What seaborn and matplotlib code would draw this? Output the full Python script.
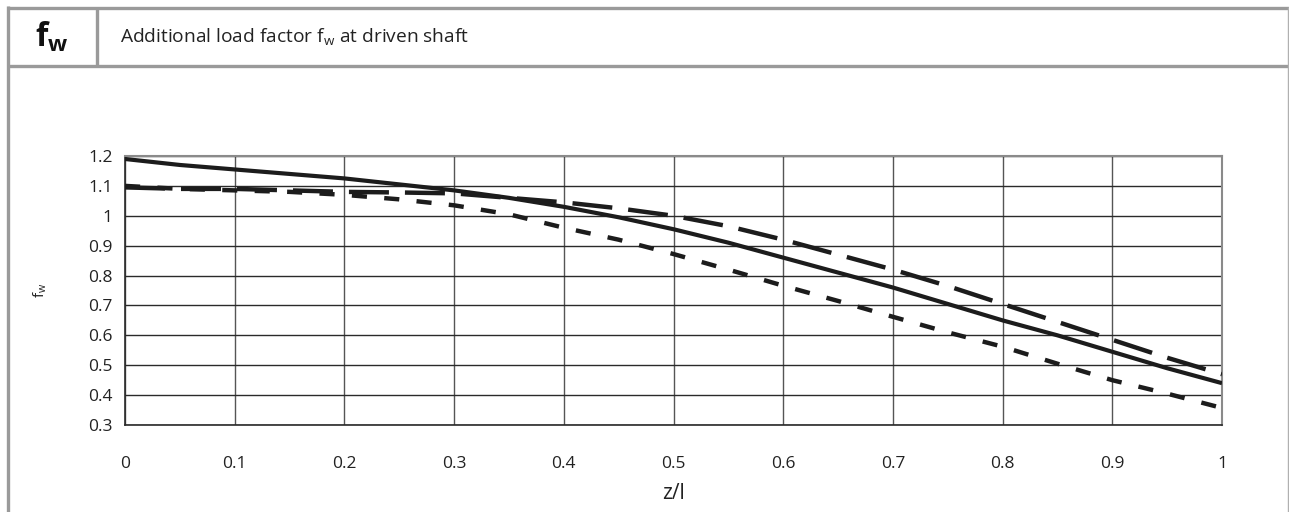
import numpy as np
import pandas as pd
import matplotlib
matplotlib.use("Agg")
import matplotlib.pyplot as plt
import seaborn as sns
from matplotlib.lines import Line2D

# ---- data ----
z_values = [0.0, 0.05, 0.1, 0.15, 0.2, 0.25, 0.3, 0.35, 0.4, 0.45, 0.5,
            0.55, 0.6, 0.65, 0.7, 0.75, 0.8, 0.85, 0.9, 0.95, 1.0]
solid_values = [1.19, 1.17, 1.155, 1.14, 1.125, 1.105, 1.085, 1.06, 1.03, 0.995, 0.955,
                0.91, 0.86, 0.81, 0.76, 0.705, 0.65, 0.60, 0.545, 0.49, 0.44]
long_dash_values = [1.095, 1.09, 1.09, 1.085, 1.08, 1.078, 1.075, 1.06, 1.045, 1.025, 1.0,
                    0.965, 0.92, 0.87, 0.82, 0.765, 0.705, 0.645, 0.585, 0.525, 0.47]
short_dash_values = [1.10, 1.09, 1.085, 1.08, 1.07, 1.055, 1.035, 1.005, 0.96, 0.92, 0.872,
                     0.82, 0.766, 0.715, 0.662, 0.61, 0.562, 0.505, 0.45, 0.405, 0.357]
x_ticks = [0, 0.1, 0.2, 0.3, 0.4, 0.5, 0.6, 0.7, 0.8, 0.9, 1]
x_tick_labels = ["0", "0.1", "0.2", "0.3", "0.4", "0.5", "0.6", "0.7", "0.8", "0.9", "1"]
y_ticks = [0.3, 0.4, 0.5, 0.6, 0.7, 0.8, 0.9, 1.0, 1.1, 1.2]
y_tick_labels = ["0.3", "0.4", "0.5", "0.6", "0.7", "0.8", "0.9", "1", "1.1", "1.2"]

sns.set_style("white")
plt.rcParams['font.family'] = ['Open Sans', 'DejaVu Sans']
plt.rcParams['mathtext.fontset'] = 'custom'
plt.rcParams['mathtext.rm'] = 'Open Sans'
plt.rcParams['mathtext.bf'] = 'Open Sans:bold'

W, H = 1289, 512
fig = plt.figure(figsize=(W / 100, H / 100), dpi=100)
ax = fig.add_axes([125 / W, 1 - 425 / H, (1222 - 125) / W, (425 - 156) / H])

df = pd.DataFrame({"z": z_values, "solid": solid_values,
                   "long": long_dash_values, "short": short_dash_values})

ink = "#1c1c1c"
sns.lineplot(data=df, x="z", y="long", ax=ax, color=ink, lw=3.2)
sns.lineplot(data=df, x="z", y="short", ax=ax, color=ink, lw=3.2)
sns.lineplot(data=df, x="z", y="solid", ax=ax, color=ink, lw=3.0)
lines = ax.get_lines()
lines[0].set_dashes([9.0, 3.6])
lines[1].set_dashes([3.4, 3.9])
for ln in lines:
    ln.set_solid_capstyle("butt")
    ln.set_dash_capstyle("butt")
    ln.set_zorder(3)

ax.set_xlim(0, 1)
ax.set_ylim(0.3, 1.2)
ax.set_xticks(x_ticks)
ax.set_xticklabels(x_tick_labels)
ax.set_yticks(y_ticks)
ax.set_yticklabels(y_tick_labels)
ax.grid(True, axis="y", color="#2a2a2a", lw=1.0)
ax.grid(True, axis="x", color="#555555", lw=1.0)
ax.set_axisbelow(True)
for side in ["top", "right"]:
    ax.spines[side].set_color("#8a8a8a")
    ax.spines[side].set_linewidth(1.5)
for side in ["left", "bottom"]:
    ax.spines[side].set_color("#2a2a2a")
    ax.spines[side].set_linewidth(1.2)
ax.tick_params(axis="both", which="both", direction="out", length=4, width=1,
               color="#2a2a2a", labelsize=12.5, labelcolor="#222222")
ax.tick_params(axis="x", pad=18)
ax.tick_params(axis="y", pad=5)
ax.set_xlabel("z/l", fontsize=15, color="#222222", labelpad=8)
ax.set_ylabel(r"$\mathrm{f}_\mathrm{w}$", fontsize=11, color="#222222", labelpad=28)

# ---- frame / header ----
gray = "#9a9a9a"
def hline(y, x0, x1, lw, c=gray):
    fig.add_artist(Line2D([x0 / W, x1 / W], [1 - y / H, 1 - y / H], color=c, lw=lw,
                          transform=fig.transFigure, solid_capstyle="butt"))
def vline(x, y0, y1, lw, c=gray):
    fig.add_artist(Line2D([x / W, x / W], [1 - y0 / H, 1 - y1 / H], color=c, lw=lw,
                          transform=fig.transFigure, solid_capstyle="butt"))

hline(7.5, 7, W, 2.4)
hline(65.5, 7, W, 2.4)
vline(8, 6, H, 2.4)
vline(97, 7, 66, 2.4)
vline(1287.5, 7, H, 1.0, c="#b0b0b0")

fig.text(52 / W, 1 - 37 / H, r"$\mathbf{f}_\mathbf{w}$", fontsize=23, ha="center",
         va="center", color="#111111")
fig.text(120 / W, 1 - 37 / H, r"Additional load factor $\mathrm{f}_\mathrm{w}$ at driven shaft",
         fontsize=13.8, ha="left", va="center", color="#222222")

fig.savefig("out.png", dpi=100)
